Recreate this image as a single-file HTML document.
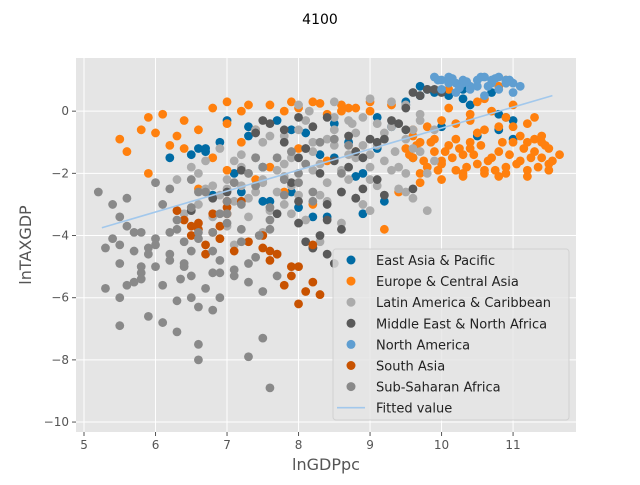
<!DOCTYPE html>
<html><head><meta charset="utf-8"><style>
body{margin:0;background:#fff;font-family:"Liberation Sans","DejaVu Sans",sans-serif}
svg text{font-family:"DejaVu Sans","Liberation Sans",sans-serif}
</style></head><body>
<svg id="chart" width="640" height="480" xmlns="http://www.w3.org/2000/svg">
<rect width="640" height="480" fill="#fff"/>
<text x="320" y="24" text-anchor="middle" font-size="14">4100</text>
<rect x="76" y="58" width="500" height="374" fill="#E5E5E5"/>
<g id="grid"></g><g id="ticks"></g><g id="points"></g><g id="fit"></g>
<text x="326" y="470" text-anchor="middle" font-size="16" fill="#555">lnGDPpc</text>
<text transform="translate(31,245) rotate(-90)" text-anchor="middle" font-size="16" fill="#555">lnTAXGDP</text>
<g id="legend"></g>
</svg>
<script>
const xTicks=[5,6,7,8,9,10,11];
const yTicks=[0,-2,-4,-6,-8,-10];
const names=["East Asia & Pacific","Europe & Central Asia","Latin America & Caribbean","Middle East & North Africa","North America","South Asia","Sub-Saharan Africa"];
const colors=["#006BA4","#FF800E","#ABABAB","#595959","#5F9ED1","#C85200","#898989"];
const eapX=[6.2,6.5,6.7,6.9,7.1,7.3,7.5,7.7,7.9,8.1,8.3,8.5,8.7,8.9,9.1,9.3,9.5,9.7,9.9,10.1,10.3,10.5,10.7,10.9,11.0,6.8,7.2,7.6,8.0,8.4,8.8,9.2,9.6,10.0,10.4,10.8,6.6,7.0,7.5,8.9,6.7,7.3,7.9,8.5,9.1,9.7,9.5,9.8,10.3,10.8,11.0,8.2];
const eapY=[-1.5,-1.4,-1.3,-1.0,-2.0,-0.8,-1.8,-0.3,-2.6,-0.7,-1.4,-0.4,-1.0,-2.0,-1.2,-0.5,0.3,0.8,0.6,0.5,0.7,-0.8,0.6,-0.2,-0.3,-2.7,-2.6,-2.9,-3.1,-3.4,-2.1,-2.9,-1.5,-0.5,0.2,-0.6,-1.2,-0.3,-2.9,-3.3,-1.2,-0.5,-0.6,-1.5,-0.2,0.5,0.2,0.7,0.4,-0.1,-0.9,-3.4];
const ecaX=[5.5,5.6,5.8,5.9,6.0,6.1,6.3,6.4,6.6,6.8,7.0,7.2,7.4,7.6,7.8,8.0,8.2,8.4,8.6,8.8,9.0,5.9,6.4,6.8,7.2,7.6,8.0,8.4,8.8,6.2,6.6,7.0,7.4,7.8,8.2,9.5,9.6,9.7,9.8,9.9,10.0,10.1,10.2,10.3,10.4,10.5,10.6,10.7,10.8,10.9,11.0,11.1,11.2,11.3,11.4,11.5,9.6,9.8,10.0,10.2,10.4,10.6,10.8,11.0,11.2,11.4,9.7,10.0,10.3,10.6,10.9,11.2,11.5,10.1,10.5,10.9,11.3,10.4,10.8,9.2,9.4,
9.55,9.65,9.75,9.85,9.95,10.05,10.15,10.25,10.35,10.45,10.55,10.65,10.75,10.85,10.95,11.05,11.15,11.25,11.35,11.45,11.55,11.65,9.6,9.9,10.2,10.5,10.8,11.1,11.4,9.7,10.0,10.3,10.6,10.9,11.2,11.5,10.1,10.4,10.7,11.0,11.3,7.0,7.3,7.9,8.3,8.7,9.0,9.3,8.6];
const ecaY=[-0.9,-1.3,-0.6,-0.2,-0.7,-0.1,-0.8,-0.3,-0.6,0.1,-0.4,0.0,-0.6,0.2,0.0,0.1,0.3,-0.1,0.2,0.1,0.0,-2.0,-1.2,-1.5,-1.0,-1.8,-1.2,-1.6,-1.3,-1.1,-2.5,-1.9,-2.2,-2.6,-3.0,-1.2,-1.5,-1.0,-1.8,-1.3,-1.6,-1.1,-1.9,-1.4,-1.2,-1.7,-2.0,-1.5,-1.3,-1.8,-1.0,-1.6,-1.9,-1.3,-1.5,-1.2,-0.8,-0.5,-0.3,-0.9,-0.1,0.4,0.8,0.2,-0.4,-0.8,-2.3,-2.2,-2.0,-0.6,1.0,-1.0,-1.7,0.7,0.3,-0.2,-0.9,-1.0,-2.1,-3.8,-2.6,
-1.4,-1.1,-1.6,-1.0,-1.9,-1.3,-1.5,-1.2,-1.8,-1.4,-1.1,-1.6,-1.9,-1.0,-1.4,-1.7,-1.2,-1.5,-1.8,-1.1,-1.6,-1.4,-0.6,-0.9,-0.4,-0.7,-0.5,-0.8,-1.0,-2.0,-1.7,-2.1,-1.9,-2.0,-2.1,-1.9,0.1,-0.3,0.0,-0.5,-0.2,0.3,0.2,0.3,0.25,0.1,0.3,0.2,0.0];
const lacX=[6.3,6.5,6.7,6.9,7.1,7.3,7.5,7.7,7.9,8.1,8.3,8.5,8.7,8.9,9.1,9.3,9.5,9.7,9.9,6.6,6.8,7.0,7.2,7.4,7.6,7.8,8.0,8.2,8.4,8.6,8.8,9.0,9.2,9.4,9.6,9.8,6.9,7.2,7.5,7.8,8.1,8.4,8.7,9.0,9.3,9.6,9.9,7.0,7.4,7.8,8.2,8.6,9.0,9.4,9.8,6.4,7.1,7.7,8.3,8.9,9.5,8.0,8.5,9.0,9.5,7.5,8.8,
6.6,6.9,7.2,7.5,7.8,8.1,8.4,8.7,9.0,9.3,9.6,6.7,7.0,7.3,7.6,7.9,8.2,8.5,8.8,9.1,9.4,9.7,6.8,7.1,7.4,7.7,8.0,8.3,8.6,8.9,9.2,9.5,7.3,7.9,8.5,9.1,9.7,8.15,8.75,9.35];
const lacY=[-2.2,-1.8,-2.5,-1.2,-2.9,-2.0,-1.0,-2.6,-1.5,-0.3,-1.7,-0.6,-1.4,-0.2,-1.1,-0.5,-0.9,-0.3,-1.6,-3.0,-3.4,-3.7,-2.4,-1.5,-3.2,-2.1,-2.7,-1.0,-2.3,-1.9,-2.8,-1.8,-0.7,-2.5,-1.2,-2.0,-4.1,-1.8,-3.9,-0.8,-3.5,-2.9,-0.3,-3.2,0.3,-2.8,-0.6,-2.5,-0.6,-3.0,-1.3,-3.6,-2.2,-1.8,-3.2,-3.3,-4.3,-4.6,-4.2,-3.0,-2.6,0.2,0.3,0.4,0.2,-2.2,-1.5,
-2.0,-2.7,-1.4,-2.3,-1.7,-1.2,-0.9,-2.2,-1.4,-1.9,-0.6,-1.6,-2.2,-2.8,-0.8,-2.4,-1.9,-1.1,-0.7,-2.4,-0.4,-1.3,-2.4,-1.6,-2.6,-1.9,-0.6,-2.7,-2.6,-1.1,-1.6,-2.0,-3.4,-3.3,-0.2,-0.4,-0.1,0.0,-0.4,-1.3];
const menaX=[6.5,6.8,7.0,7.2,7.4,7.6,7.8,8.0,8.1,8.2,8.3,8.4,8.5,8.6,8.7,8.8,8.9,9.0,9.2,9.4,9.6,9.8,10.0,7.7,8.0,8.2,8.4,8.6,8.0,8.2,8.4,7.5,7.9,9.1,9.5,7.8,8.1,8.3,8.5,8.7,8.9,9.1,9.3,9.5,9.7,8.0,8.4,8.8,9.2,9.6,9.9];
const menaY=[-3.2,-2.8,-2.6,-1.9,-0.7,-0.4,-1.0,-0.2,-4.2,-4.4,-4.0,-4.6,-4.9,-3.8,-1.8,-1.3,-2.5,-0.9,-2.7,-0.4,-2.5,0.7,0.6,-3.3,-3.6,-4.4,-3.0,-2.6,-1.5,-0.5,-0.2,-0.3,-2.3,-1.0,0.1,-0.6,-1.2,-2.0,-1.6,-0.8,-1.5,-2.2,-0.3,-0.6,0.5,-2.9,-3.5,-2.8,-0.9,0.6,0.7];
const naX=[9.9,10.0,10.1,10.2,10.3,10.4,10.5,10.6,10.7,10.8,10.9,11.0,11.1,10.0,10.2,10.4,10.6,10.8,11.0,10.1,10.3,10.5,10.7,10.9,9.95,10.15,10.35,10.55,10.75,10.95,10.25,10.65];
const naY=[1.1,1.0,1.1,0.9,1.0,0.8,1.0,1.1,0.9,1.1,1.0,0.9,0.8,0.7,0.6,0.7,0.5,0.7,0.6,0.9,0.9,0.8,1.0,0.9,1.0,1.05,0.95,1.1,1.05,1.0,0.75,0.8];
const saX=[6.3,6.4,6.5,6.6,6.7,6.8,6.9,7.0,7.1,7.2,7.5,7.5,7.6,7.8,7.9,8.0,8.1,8.2,8.3,8.0,7.7,6.9,6.6,7.0,6.5,6.8,7.3,7.6,7.9,8.2,7.0,6.7];
const saY=[-3.2,-3.5,-4.0,-3.6,-4.3,-3.9,-3.7,-3.3,-4.5,-2.9,-4.0,-4.4,-4.8,-5.6,-5.3,-6.2,-5.8,-5.5,-5.9,-5.0,-4.6,-4.1,-3.8,-3.1,-3.7,-3.3,-4.2,-4.5,-5.0,-4.3,-2.9,-4.6];
const ssaX=[5.2,5.3,5.4,5.5,5.5,5.6,5.6,5.7,5.8,5.9,6.0,6.0,6.1,6.2,6.3,6.3,6.4,6.5,6.5,6.6,6.6,6.7,6.8,6.9,7.0,7.1,7.2,7.3,7.4,7.5,7.6,7.8,8.0,8.2,5.4,5.6,5.8,6.0,6.2,6.4,6.6,6.8,7.0,7.2,7.4,7.6,5.5,5.9,6.3,6.5,6.8,7.1,7.3,7.7,5.3,5.7,6.1,6.5,6.9,5.5,6.6,7.3,7.6,7.5,6.6,6.2,5.8,
5.5,5.7,5.9,6.1,6.3,6.5,6.7,6.9,7.1,7.3,7.5,7.7,7.9,8.1,8.3,8.5,8.7,6.0,6.4,6.8,7.2,7.6,8.0,6.2,6.6,7.0,7.4,7.8,8.2,8.6,5.8,6.35,6.9,7.45];
const ssaY=[-2.6,-4.4,-3.0,-4.9,-6.0,-5.6,-2.8,-4.5,-3.9,-4.6,-5.0,-2.3,-5.6,-4.8,-6.1,-3.5,-4.2,-5.3,-2.2,-7.5,-4.1,-5.7,-3.9,-4.8,-3.6,-5.3,-4.2,-5.5,-4.7,-5.8,-3.1,-2.7,-2.0,-2.6,-4.1,-3.7,-5.2,-4.1,-3.9,-5.0,-6.3,-4.5,-3.3,-3.0,-2.4,-3.8,-6.9,-6.6,-7.1,-3.1,-6.4,-5.1,-7.9,-5.3,-5.7,-5.5,-6.8,-6.0,-5.2,-4.3,-8.0,-4.9,-8.9,-7.3,-2.6,-4.6,-5.4,
-3.4,-3.9,-4.4,-3.0,-3.8,-4.5,-2.6,-3.3,-2.3,-2.0,-1.8,-1.5,-1.3,-1.7,-1.0,-0.9,-1.1,-4.3,-4.9,-5.2,-3.8,-3.5,-2.3,-2.5,-3.9,-2.9,-1.5,-2.2,-2.9,-2.0,-5.0,-5.4,-6.0,-4.0];
const fitX=[5.25,11.55];
const fitY=[-3.75,0.5];

const X0=76,X1=576,Y0=58,Y1=432,xmin=4.888,xmax=11.88,ymin=-10.32,ymax=1.71;
const sx=v=>X0+(v-xmin)/(xmax-xmin)*(X1-X0);
const sy=v=>Y1-(v-ymin)/(ymax-ymin)*(Y1-Y0);
const NS="http://www.w3.org/2000/svg";
function mk(t,a,p){const e=document.createElementNS(NS,t);for(const k in a)e.setAttribute(k,a[k]);p.appendChild(e);return e;}
const grid=document.getElementById('grid'),ticks=document.getElementById('ticks');
xTicks.forEach(v=>{const x=sx(v);
 const g=mk('line',{x1:x,x2:x,y1:Y0,y2:Y1,stroke:'#fff','stroke-width':1},grid);
 
 
 mk('line',{x1:x,x2:x,y1:Y1,y2:Y1+4,stroke:'#555'},ticks);
 const t=mk('text',{x:x,y:Y1+17,'text-anchor':'middle','font-size':12,fill:'#555'},ticks);t.textContent=v;
 
 });
yTicks.forEach(v=>{const y=sy(v);
 const g=mk('line',{x1:X0,x2:X1,y1:y,y2:y,stroke:'#fff','stroke-width':1},grid);
 
 
 mk('line',{x1:X0-4,x2:X0,y1:y,y2:y,stroke:'#555'},ticks);
 const t=mk('text',{x:X0-7,y:y+4,'text-anchor':'end','font-size':12,fill:'#555'},ticks);t.textContent=(v<0?'\u2212'+(-v):v);
 
 });
const series=[[eapX,eapY],[ecaX,ecaY],[lacX,lacY],[menaX,menaY],[naX,naY],[saX,saY],[ssaX,ssaY]];
const pts=document.getElementById('points');
series.forEach((s,i)=>{s[0].forEach((xv,j)=>{
 const c=mk('circle',{cx:sx(xv),cy:sy(s[1][j]),r:4.4,fill:colors[i]},pts);
 
 });});
const fl=mk('line',{x1:sx(fitX[0]),y1:sy(fitY[0]),x2:sx(fitX[1]),y2:sy(fitY[1]),stroke:'#A2C8EC','stroke-width':1.6},document.getElementById('fit'));


const lg=document.getElementById('legend');
mk('rect',{x:333,y:249,width:236,height:171,rx:3,fill:'#E5E5E5','fill-opacity':0.8,stroke:'#ccc','stroke-opacity':0.8},lg);
names.concat(['Fitted value']).forEach((n,i)=>{const y=260+i*21.1;
 let m;
 if(i<7){m=mk('circle',{cx:351,cy:y,r:4.5,fill:colors[i]},lg);}
 else{m=mk('line',{x1:337,x2:365,y1:y,y2:y,stroke:'#A2C8EC','stroke-width':1.6},lg);}
 
 
 const t=mk('text',{x:376,y:y+5,'font-size':13,fill:'#222'},lg);t.textContent=n;
 
 });
</script>
</body></html>
